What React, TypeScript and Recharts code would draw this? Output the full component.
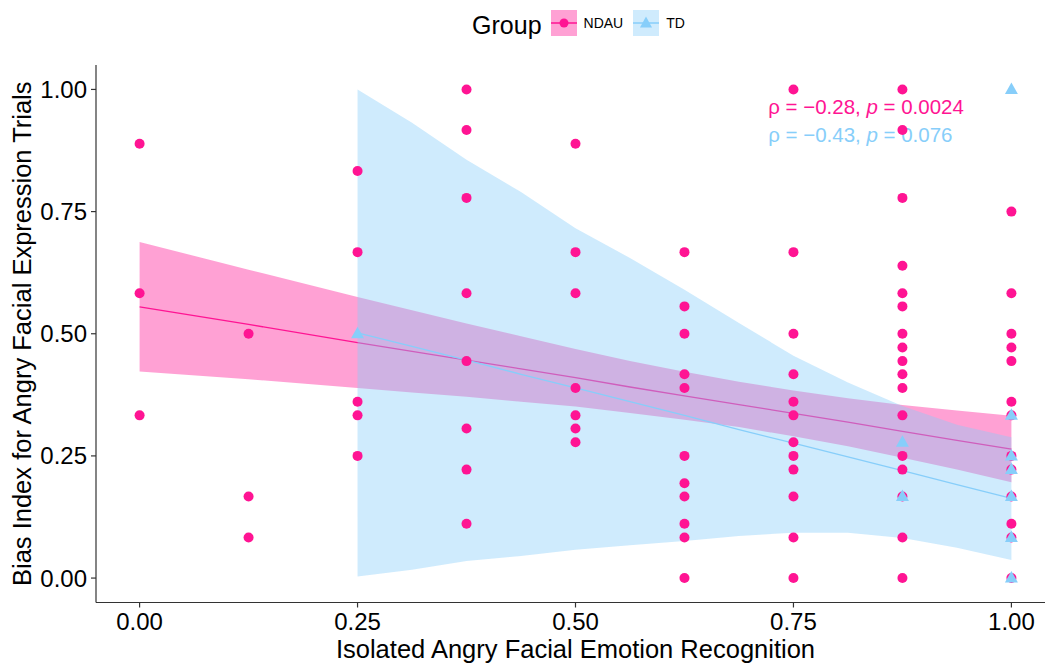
import React from 'react';
import {
  ComposedChart,
  XAxis,
  YAxis,
  Area,
  Line,
  Scatter,
  ReferenceDot,
  Legend,
  Label,
} from 'recharts';

const NDAU_COLOR = '#FF1493';
const TD_COLOR = '#87CEFA';
const FONT = '"Liberation Sans", Arial, Helvetica, sans-serif';

// Participants: isolated angry recognition score and bias index (NDAU group)
const ndauRecognition = [
  0, 0, 0,
  0.125, 0.125, 0.125,
  0.25, 0.25, 0.25, 0.25, 0.25,
  0.375, 0.375, 0.375, 0.375, 0.375, 0.375, 0.375, 0.375,
  0.5, 0.5, 0.5, 0.5, 0.5, 0.5, 0.5,
  0.625, 0.625, 0.625, 0.625, 0.625, 0.625, 0.625, 0.625, 0.625, 0.625, 0.625,
  0.75, 0.75, 0.75, 0.75, 0.75, 0.75, 0.75, 0.75, 0.75, 0.75, 0.75, 0.75,
  0.875, 0.875, 0.875, 0.875, 0.875, 0.875, 0.875, 0.875, 0.875, 0.875, 0.875, 0.875, 0.875, 0.875, 0.875, 0.875, 0.875,
  1, 1, 1, 1, 1, 1, 1, 1, 1, 1, 1, 1, 1,
];
const ndauBias = [
  0.889, 0.583, 0.333,
  0.5, 0.167, 0.083,
  0.833, 0.667, 0.361, 0.333, 0.25,
  1, 0.917, 0.778, 0.583, 0.444, 0.306, 0.222, 0.111,
  0.889, 0.667, 0.583, 0.389, 0.333, 0.306, 0.278,
  0.667, 0.556, 0.5, 0.417, 0.389, 0.25, 0.194, 0.167, 0.111, 0.083, 0,
  1, 0.667, 0.5, 0.417, 0.361, 0.333, 0.278, 0.25, 0.222, 0.167, 0.083, 0,
  1, 0.917, 0.778, 0.639, 0.583, 0.556, 0.5, 0.472, 0.444, 0.417, 0.389, 0.333, 0.25, 0.222, 0.167, 0.083, 0,
  0.75, 0.583, 0.5, 0.472, 0.444, 0.361, 0.333, 0.25, 0.222, 0.167, 0.111, 0.083, 0,
];

// Participants (TD group)
const tdRecognition = [0.25, 0.875, 0.875, 1, 1, 1, 1, 1, 1, 1];
const tdBias = [0.5, 0.278, 0.167, 1, 0.333, 0.25, 0.222, 0.167, 0.083, 0];

// Linear fits with 95% confidence bands, sampled along the recognition axis
const fitGrid = [0, 0.125, 0.25, 0.3125, 0.375, 0.4375, 0.5, 0.5625, 0.625, 0.6875, 0.75, 0.8125, 0.875, 0.9375, 1];
const ndauFit = [0.555, 0.519, 0.482, 0.464, 0.446, 0.428, 0.41, 0.391, 0.373, 0.355, 0.337, 0.319, 0.3, 0.282, 0.264];
const ndauLower = [0.423, 0.407, 0.389, 0.38, 0.371, 0.361, 0.351, 0.338, 0.324, 0.309, 0.29, 0.27, 0.246, 0.222, 0.196];
const ndauUpper = [0.688, 0.631, 0.575, 0.548, 0.521, 0.495, 0.469, 0.444, 0.422, 0.402, 0.384, 0.368, 0.354, 0.343, 0.332];
const tdFit = [null, null, 0.502, 0.474, 0.446, 0.417, 0.389, 0.361, 0.333, 0.304, 0.276, 0.248, 0.22, 0.191, 0.163];
const tdLower = [null, null, 0.003, 0.017, 0.035, 0.045, 0.058, 0.067, 0.076, 0.086, 0.093, 0.093, 0.082, 0.062, 0.037];
const tdUpper = [null, null, 1.0, 0.932, 0.856, 0.79, 0.716, 0.655, 0.59, 0.522, 0.455, 0.4, 0.352, 0.314, 0.288];

// Spearman correlation per group
const groups = ['NDAU', 'TD'];
const groupColors = [NDAU_COLOR, TD_COLOR];
const rhoValues = ['\u22120.28', '\u22120.43'];
const pValues = ['0.0024', '0.076'];

const axisTicks = [0, 0.25, 0.5, 0.75, 1];

const ndauPoints = ndauRecognition.map((score, i) => ({ score, bias: ndauBias[i] }));
const tdPoints = tdRecognition.map((score, i) => ({ score, bias: tdBias[i] }));
const fitRows = fitGrid.map((score, i) => ({
  score,
  ndauFit: ndauFit[i],
  ndauBand: [ndauLower[i], ndauUpper[i]],
  tdFit: tdFit[i],
  tdBand: [tdLower[i], tdUpper[i]],
}));

const DOMAIN: [number, number] = [-0.05, 1.05];
const LABEL_X = 0.721;
const LABEL_Y = [0.964, 0.907];

const NdauDot = (props: any) => {
  const { cx, cy } = props;
  if (cx == null || cy == null) return <g />;
  return <circle cx={cx} cy={cy} r={5} fill={NDAU_COLOR} />;
};

const TdTriangle = (props: any) => {
  const { cx, cy } = props;
  if (cx == null || cy == null) return <g />;
  return (
    <polygon
      points={`${cx},${cy - 7} ${cx - 6.5},${cy + 4.5} ${cx + 6.5},${cy + 4.5}`}
      fill={TD_COLOR}
    />
  );
};

const Swatch = ({ color, triangle }: { color: string; triangle?: boolean }) => (
  <svg width={26} height={26} style={{ display: 'block' }}>
    <rect x={0} y={0} width={26} height={26} fill={color} fillOpacity={0.4} />
    <line x1={0} y1={13} x2={26} y2={13} stroke={color} strokeWidth={1.5} />
    {triangle ? (
      <polygon points="13,6.5 7,17.5 19,17.5" fill={color} />
    ) : (
      <circle cx={13} cy={13} r={4.5} fill={color} />
    )}
  </svg>
);

const LegendBox = () => (
  <div style={{ height: 55, fontFamily: FONT, color: '#000' }}>
    <div
      style={{
        display: 'flex',
        justifyContent: 'center',
        alignItems: 'center',
        height: 26,
        marginTop: 2,
        paddingLeft: 6,
      }}
    >
      <span style={{ fontSize: 25, marginRight: 9, position: 'relative', top: 2 }}>Group</span>
      <Swatch color={groupColors[0]} />
      <span style={{ fontSize: 14, marginLeft: 7, marginRight: 10 }}>{groups[0]}</span>
      <Swatch color={groupColors[1]} triangle />
      <span style={{ fontSize: 14, marginLeft: 7 }}>{groups[1]}</span>
    </div>
  </div>
);

const CorrText = (props: any, i: number) => {
  const { cx, cy } = props;
  return (
    <text
      x={cx}
      y={cy}
      dy="0.35em"
      fill={groupColors[i]}
      fontSize={20.5}
      fontFamily={FONT}
      textAnchor="start"
    >
      <tspan>{`\u03C1 = ${rhoValues[i]}, `}</tspan>
      <tspan fontStyle="italic">p</tspan>
      <tspan>{` = ${pValues[i]}`}</tspan>
    </text>
  );
};

const XTitle = (props: any) => {
  const vb = props.viewBox;
  return (
    <text
      x={vb.x + vb.width / 2}
      y={vb.y + 46.5}
      dy="0.35em"
      textAnchor="middle"
      fontSize={25.5}
      fontFamily={FONT}
      fill="#000"
    >
      Isolated Angry Facial Emotion Recognition
    </text>
  );
};

const YTitle = (props: any) => {
  const vb = props.viewBox;
  const x = vb.x + 14.5;
  const y = vb.y + vb.height / 2;
  return (
    <text
      x={x}
      y={y}
      dy="0.35em"
      textAnchor="middle"
      fontSize={25.5}
      fontFamily={FONT}
      fill="#000"
      transform={`rotate(-90, ${x}, ${y})`}
    >
      Bias Index for Angry Facial Expression Trials
    </text>
  );
};

const tickStyle = { fontSize: 24, fill: '#000', fontFamily: FONT };
const fmt = (v: number) => v.toFixed(2);

export default function App() {
  return (
    <div
      style={{
        position: 'fixed',
        top: 8,
        left: 8,
        width: 1037,
        height: 656,
        overflow: 'hidden',
        background: '#fff',
      }}
    >
      <ComposedChart
        width={1052}
        height={656}
        data={fitRows}
        margin={{ top: 0, right: 5, bottom: 0, left: 0 }}
      >
        <Legend
          verticalAlign="top"
          align="left"
          wrapperStyle={{ left: 88, width: 959, top: 0 }}
          content={() => <LegendBox />}
        />
        <XAxis
          dataKey="score"
          type="number"
          domain={DOMAIN}
          ticks={axisTicks}
          tickFormatter={fmt}
          allowDataOverflow
          height={61.5}
          tick={tickStyle}
          tickSize={5}
          tickMargin={5}
          axisLine={{ stroke: '#333', strokeWidth: 1.2 }}
          tickLine={{ stroke: '#333', strokeWidth: 1.2 }}
        >
          <Label content={XTitle} />
        </XAxis>
        <YAxis
          type="number"
          domain={DOMAIN}
          ticks={axisTicks}
          tickFormatter={fmt}
          allowDataOverflow
          width={88}
          tick={tickStyle}
          tickSize={5}
          tickMargin={4}
          axisLine={{ stroke: '#333', strokeWidth: 1.2 }}
          tickLine={{ stroke: '#333', strokeWidth: 1.2 }}
        >
          <Label content={YTitle} />
        </YAxis>

        <Area
          dataKey="ndauBand"
          type="linear"
          stroke="none"
          fill={NDAU_COLOR}
          fillOpacity={0.4}
          isAnimationActive={false}
          activeDot={false}
          zIndex={100}
        />
        <Line
          dataKey="ndauFit"
          type="linear"
          stroke={NDAU_COLOR}
          strokeWidth={1.3}
          dot={false}
          activeDot={false}
          isAnimationActive={false}
          zIndex={101}
        />
        <Area
          dataKey="tdBand"
          type="linear"
          stroke="none"
          fill={TD_COLOR}
          fillOpacity={0.4}
          isAnimationActive={false}
          activeDot={false}
          zIndex={102}
        />
        <Line
          dataKey="tdFit"
          type="linear"
          stroke={TD_COLOR}
          strokeWidth={1.3}
          dot={false}
          activeDot={false}
          isAnimationActive={false}
          zIndex={103}
        />

        {groups.map((g, i) => (
          <ReferenceDot
            key={g}
            x={LABEL_X}
            y={LABEL_Y[i]}
            r={0}
            ifOverflow="visible"
            shape={(p: any) => CorrText(p, i)}
            zIndex={500}
          />
        ))}

        <Scatter
          name="NDAU"
          data={ndauPoints}
          dataKey="bias"
          shape={NdauDot}
          isAnimationActive={false}
          zIndex={600}
        />
        <Scatter
          name="TD"
          data={tdPoints}
          dataKey="bias"
          shape={TdTriangle}
          isAnimationActive={false}
          zIndex={601}
        />
      </ComposedChart>
    </div>
  );
}
